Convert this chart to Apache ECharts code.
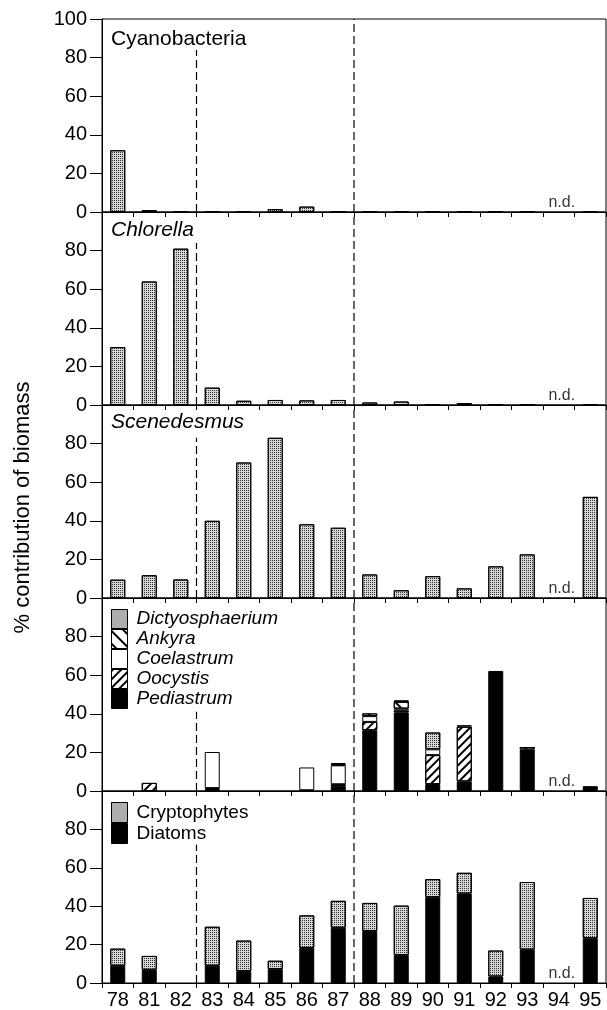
<!DOCTYPE html>
<html lang="en">
<head>
<meta charset="UTF-8">
<title>Phytoplankton biomass contribution</title>
<script src="https://cdn.jsdelivr.net/npm/echarts@6/dist/echarts.min.js"></script>
<style>
  html, body { margin: 0; padding: 0; background: #fff; }
  #chart { width: 607px; height: 1010px; }
</style>
</head>
<body>
<div id="chart"></div>
<script>
// years sampled (94 = no data)
const years = ['78', '81', '82', '83', '84', '85', '86', '87', '88', '89', '90', '91', '92', '93', '94', '95'];

// % contribution of biomass
const cyanobacteria = [32, 1, 0.2, 0.2, 0.3, 1.5, 2.8, 0.2, 0.2, 0.2, 0.3, 0.3, 0.3, 0.2, null, 0.5];
const chlorella     = [30, 64, 81, 9, 2.2, 2.6, 2.4, 2.6, 1.3, 1.8, 0.4, 1, 0.3, 0.3, null, 0.3];
const scenedesmus   = [9.5, 11.8, 9.6, 40, 70.2, 83, 38.2, 36.4, 12.2, 4, 11.3, 5, 16.4, 22.6, null, 52.4];

// other green algae (stacked, bottom to top)
const pediastrum      = [null, null, null, 1, null, null, 0.4, 2.5, 31.5, 40.7, 3.6, 5, 62.2, 21.5, null, 2.5];
const oocystis        = [null, 4.2, null, 0.5, null, null, null, 1, 4.3, 1, 15, 28.3, null, 1.3, null, null];
const coelastrum      = [null, null, null, 18.7, null, null, 11.8, 9.8, 3, 1, 3, 0.8, null, null, null, null];
const ankyra          = [null, null, null, null, null, null, null, 0.5, 1.4, 3.5, null, null, null, null, null, null];
const dictyosphaerium = [null, null, null, null, null, null, null, 0.5, null, 0.7, 8.7, null, null, null, null, null];

// diatoms and cryptophytes (stacked)
const diatoms      = [9, 6.9, null, 9, 6.2, 7.2, 18.3, 28.8, 27.1, 14.5, 44.7, 46.6, 3.4, 17.4, null, 23.3];
const cryptophytes = [8.9, 7.2, null, 20.3, 15.9, 4.4, 16.9, 14, 14.6, 25.8, 9.4, 10.8, 13.5, 35.2, null, 21];

const yTicks = [0, 20, 40, 60, 80, 100];
const ndYear = '94';
// dashed period dividers sit between 82|83 and 87|88 (category index + 0.5)
const dividers = [2.5, 7.5];
// the first divider stops below the panel label / legend
const firstDividerTop = [84, 84, 83, 41, 72];

const FONT = '"Liberation Sans", Arial, Helvetica, sans-serif';
const nPanels = 5;

const stipple = { symbol: 'rect', symbolSize: 1, dashArrayX: [1, 1], dashArrayY: [1, 1], color: '#333' };
const hatchFwd = { symbol: 'rect', symbolSize: 1, dashArrayX: [1, 0], dashArrayY: [1.2, 3.5], rotation: -Math.PI / 4, color: '#000' };
const hatchBack = { symbol: 'rect', symbolSize: 1, dashArrayX: [1, 0], dashArrayY: [1.2, 7], rotation: Math.PI / 4, color: '#000' };
const stippleFill = '#d6d6d6';

const chart = echarts.init(document.getElementById('chart'), null, { renderer: 'canvas' });

const grids = [], xAxes = [], yAxes = [], series = [];
for (let i = 0; i < nPanels; i++) {
    grids.push({ left: 102, right: 1, top: 19 + i * 193, height: 193,
                 show: true, borderColor: '#000', borderWidth: 1 });
    xAxes.push({
        type: 'category', gridIndex: i, data: years,
        axisLine: { lineStyle: { color: '#000', width: 1 } },
        axisTick: { show: true, inside: false, length: 5, lineStyle: { color: '#000' } },
        axisLabel: { show: i === nPanels - 1, color: '#000', fontSize: 20, fontFamily: FONT, margin: 7 }
    });
    // hidden linear axis used only to place the dashed dividers between categories
    xAxes.push({ type: 'value', gridIndex: i, min: -0.5, max: years.length - 0.5, show: false });
    yAxes.push({
        type: 'value', gridIndex: i, min: yTicks[0], max: yTicks[yTicks.length - 1], interval: 20,
        splitLine: { show: false },
        axisLine: { show: true, onZero: false, lineStyle: { color: '#000' } },
        axisTick: { show: true, length: 12, lineStyle: { color: '#000' } },
        axisLabel: { color: '#000', fontSize: 20, fontFamily: FONT, margin: 15, showMaxLabel: i === 0 },
        name: i === 2 ? '% contribution of biomass' : '',
        nameLocation: 'middle', nameGap: 68,
        nameTextStyle: { color: '#000', fontSize: 22, fontFamily: FONT, padding: [0, 12, 0, 0] }
    });
}

function bar(name, data, panel, style, stack) {
    return {
        name, type: 'bar', data, stack,
        xAxisIndex: panel * 2, yAxisIndex: panel,
        barWidth: 15,
        itemStyle: Object.assign({ borderColor: '#000', borderWidth: 1 }, style)
    };
}

series.push(bar('Cyanobacteria', cyanobacteria, 0, { color: stippleFill, decal: stipple }));
series.push(bar('Chlorella', chlorella, 1, { color: stippleFill, decal: stipple }));
series.push(bar('Scenedesmus', scenedesmus, 2, { color: stippleFill, decal: stipple }));

series.push(bar('Pediastrum', pediastrum, 3, { color: '#000' }, 'green'));
series.push(bar('Oocystis', oocystis, 3, { color: '#fff', decal: hatchFwd }, 'green'));
series.push(bar('Coelastrum', coelastrum, 3, { color: '#fff' }, 'green'));
series.push(bar('Ankyra', ankyra, 3, { color: '#fff', decal: hatchBack }, 'green'));
series.push(bar('Dictyosphaerium', dictyosphaerium, 3, { color: stippleFill, decal: stipple }, 'green'));

series.push(bar('Diatoms', diatoms, 4, { color: '#000' }, 'dc'));
series.push(bar('Cryptophytes', cryptophytes, 4, { color: stippleFill, decal: stipple }, 'dc'));

const ndIndex = years.indexOf(ndYear);
for (let i = 0; i < nPanels; i++) {
    // "n.d." marker for the missing year
    series.push({
        type: 'scatter', xAxisIndex: i * 2, yAxisIndex: i,
        data: [[ndIndex, 0]], symbolSize: 1, itemStyle: { color: 'rgba(0,0,0,0)' },
        label: { show: true, position: 'top', distance: 1, formatter: 'n.d.',
                 color: '#000', fontSize: 16, fontFamily: FONT, offset: [3, 0] },
        silent: true
    });
    dividers.forEach((x, k) => {
        series.push({
            type: 'line', xAxisIndex: i * 2 + 1, yAxisIndex: i,
            data: [[x, 0], [x, k === 0 ? firstDividerTop[i] : 100]],
            symbol: 'none', silent: true,
            lineStyle: { color: '#000', width: 1.2, type: [8, 4] }
        });
    });
}

const titleStyle = { color: '#000', fontSize: 21, fontWeight: 'normal', fontFamily: FONT };
const legendText = { color: '#000', fontSize: 19, fontFamily: FONT, lineHeight: 19, padding: [0, 0, 0, 4] };

chart.setOption({
    animation: false,
    backgroundColor: '#fff',
    title: [
        { text: 'Cyanobacteria', left: 111, top: 29, padding: 0, textStyle: titleStyle },
        { text: 'Chlorella', left: 111, top: 220, padding: 0, textStyle: Object.assign({}, titleStyle, { fontStyle: 'italic' }) },
        { text: 'Scenedesmus', left: 111, top: 412, padding: 0, textStyle: Object.assign({}, titleStyle, { fontStyle: 'italic' }) }
    ],
    legend: [
        { data: ['Dictyosphaerium', 'Ankyra', 'Coelastrum', 'Oocystis', 'Pediastrum'],
          orient: 'vertical', left: 111, top: 609, padding: 0, itemGap: 0,
          itemWidth: 16, itemHeight: 19, icon: 'rect', selectedMode: false,
          itemStyle: { borderWidth: 1, borderColor: '#000' },
          textStyle: Object.assign({}, legendText, { fontStyle: 'italic' }) },
        { data: ['Cryptophytes', 'Diatoms'],
          orient: 'vertical', left: 111, top: 802, padding: 0, itemGap: 0,
          itemWidth: 16, itemHeight: 20, icon: 'rect', selectedMode: false,
          itemStyle: { borderWidth: 1, borderColor: '#000' },
          textStyle: legendText }
    ],
    grid: grids,
    xAxis: xAxes,
    yAxis: yAxes,
    series: series
});
</script>
</body>
</html>
